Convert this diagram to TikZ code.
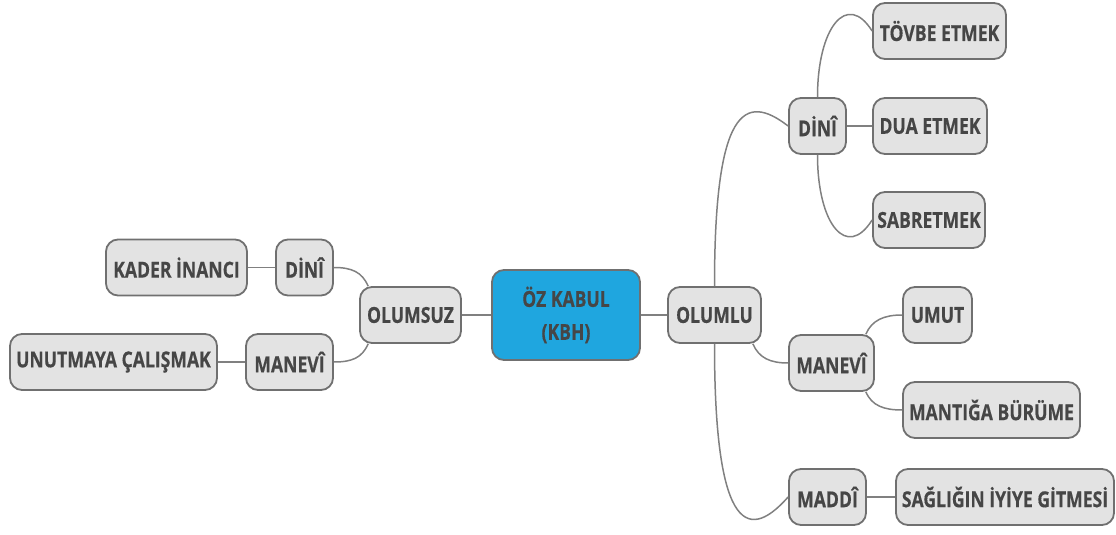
\documentclass[tikz,border=0pt]{standalone}
\usepackage{fontspec}
\setmainfont{Open Sans}[FakeStretch=0.8, BoldFeatures={FakeBold=0.4}]
\usetikzlibrary{calc}
\definecolor{boxfill}{RGB}{227,227,227}
\definecolor{boxline}{RGB}{112,112,112}
\definecolor{linkline}{RGB}{128,128,128}
\definecolor{txt}{RGB}{70,70,70}
\definecolor{rootblue}{RGB}{31,166,223}
\tikzset{
  topic/.style={draw=boxline, line width=0.9pt, fill=boxfill, rounded corners=6pt,
    minimum height=28pt, inner sep=0pt, text=txt,
    font=\fontsize{11}{16.5}\selectfont\bfseries},
  root/.style={topic, fill=rootblue, minimum height=45pt, align=center},
  link/.style={draw=linkline, line width=0.75pt}
}
\begin{document}
\begin{tikzpicture}[x=0.5pt, y=-0.5pt]
      \useasboundingbox (0,0) rectangle (1116,535);
      \draw
        (566,315) node[root, minimum width=74pt] (oz){ÖZ KABUL\\(KBH)}
        (714.5,315) node[topic, minimum width=46.5pt] (olumlu){OLUMLU}
        (410.5,315) node[topic, minimum width=50.5pt] (olumsuz){OLUMSUZ}
        (817.5,126) node[topic, minimum width=28.5pt] (rdini){DİNÎ}
        (939.5,31) node[topic, minimum width=66.5pt] (tovbe){TÖVBE ETMEK}
        (930,126) node[topic, minimum width=57pt] (dua){DUA ETMEK}
        (929,220) node[topic, minimum width=56pt] (sabret){SABRETMEK}
        (831.5,363) node[topic, minimum width=42.5pt] (rmanevi){MANEVÎ}
        (937.5,315) node[topic, minimum width=34.5pt] (umut){UMUT}
        (991.5,410) node[topic, minimum width=88.5pt] (mantik){MANTIĞA BÜRÜME}
        (827.5,497) node[topic, minimum width=38.5pt] (maddi){MADDÎ}
        (1005,497) node[topic, minimum width=109pt] (saglik){SAĞLIĞIN İYİYE GİTMESİ}
        (304.5,267.5) node[topic, minimum width=28.5pt] (ldini){DİNÎ}
        (176.5,267.5) node[topic, minimum width=70.5pt] (kader){KADER İNANCI}
        (289.5,362) node[topic, minimum width=43.5pt] (lmanevi){MANEVÎ}
        (113.5,362) node[topic, minimum width=103.5pt] (unutma){UNUTMAYA ÇALIŞMAK};
      \begin{scope}[on background layer/.try]
        \draw[link] (oz) to (olumlu);
        \draw[link] (oz) to (olumsuz);
        \draw[link] (rdini) to (dua);
        \draw[link] (maddi) to (saglik);
        \draw[link] (ldini) to (kader);
        \draw[link] (lmanevi) to (unutma);
        \draw[link] (olumlu.north) .. controls +(0,-177) and +(-44,-34) .. (rdini.west);
        \draw[link] (olumlu.south) .. controls +(0,177) and +(-44,50) .. (maddi.west);
        \draw[link] ($(olumlu.south east)+(-9,0)$) .. controls +(6,14) and +(-18,0) .. (rmanevi.west);
        \draw[link] (rdini.north) .. controls +(0,-70) and +(-25,-40) .. (tovbe.west);
        \draw[link] (rdini.south) .. controls +(0,70) and +(-25,40) .. (sabret.west);
        \draw[link] ($(rmanevi.north east)+(-9,0)$) .. controls +(6,-14) and +(-18,0) .. (umut.west);
        \draw[link] ($(rmanevi.south east)+(-9,0)$) .. controls +(6,14) and +(-18,0) .. (mantik.west);
        \draw[link] ($(olumsuz.north west)+(9,0)$) .. controls +(-6,-14) and +(18,0) .. (ldini.east);
        \draw[link] ($(olumsuz.south west)+(9,0)$) .. controls +(-6,14) and +(18,0) .. (lmanevi.east);
      \end{scope}
    \end{tikzpicture}
\end{document}
